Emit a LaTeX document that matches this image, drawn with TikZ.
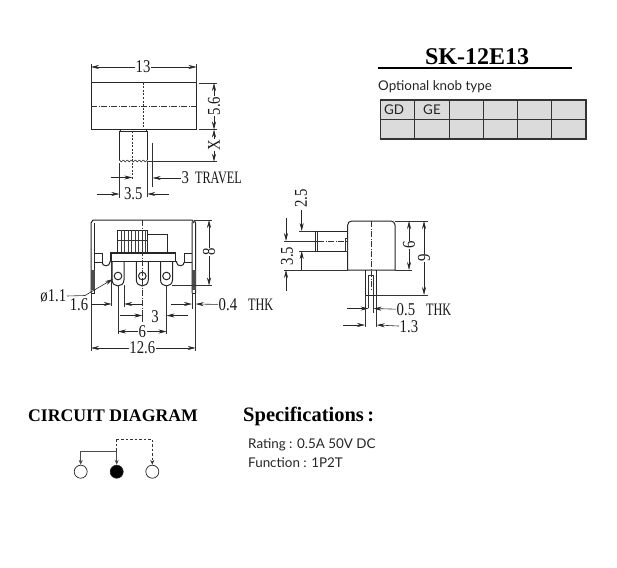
\documentclass[tikz,border=0pt]{standalone}
\usepackage{fontspec}
\setmainfont{Liberation Serif}
\newfontfamily\dimfont[FakeStretch=0.82]{Liberation Serif}
\newfontfamily\wordfont[FakeStretch=0.7]{Liberation Serif}
\newfontfamily\labelfont{Lato}
\newcommand{\wordsize}{\wordfont\fontsize{17.5}{17.5}\selectfont}
\usetikzlibrary{arrows.meta}
\tikzset{
  part/.style={line width=1pt,black!85},
  thin part/.style={line width=0.6pt,black!80},
  heavy/.style={line width=1.3pt,black!85},
  centre/.style={line width=0.6pt,black!80,dash pattern=on 6pt off 1.5pt on 1pt off 1.5pt},
  hidden/.style={line width=0.6pt,black!80,dash pattern=on 2pt off 1.5pt},
  ext/.style={line width=0.6pt,black!80},
  tip/.style={line width=0.6pt,black!85,-{Stealth[length=8pt,width=4pt]}},
  dimtext/.style={font=\dimfont\fontsize{18}{18}\selectfont,inner sep=0.5pt,fill=white,text=black!90},
  dimfree/.style={font=\dimfont\fontsize{18}{18}\selectfont,inner sep=0.5pt,anchor=west,text=black!90},
  sanslabel/.style={font=\labelfont\fontsize{13.4}{13.4}\selectfont,inner sep=0pt,anchor=west,text=black!85},
  heading/.style={inner sep=0pt,anchor=west},
  pin/.style={circle,draw=black!85,line width=0.7pt,minimum size=13pt,inner sep=0pt},
  solidlink/.style={line width=1.1pt,black!70,-{Stealth[length=5pt,width=4pt]}},
  dashlink/.style={line width=0.8pt,black!80,dash pattern=on 2.5pt off 2pt,-{Stealth[length=5pt,width=4pt]}},
}
\begin{document}
\begin{tikzpicture}[x=1pt,y=-1pt]
\useasboundingbox (0,0) rectangle (617,567);
\fill[white] (0,0) rectangle (617,567);

% ---------- title ----------
\node[font=\bfseries\fontsize{24}{24}\selectfont,inner sep=0pt] (title) at (477,57) {SK-12E13};
\draw[line width=1.5pt] (378,68) -- (572,68);
\node[sanslabel] (optional) at (378,87) {Optional knob type};

% ---------- knob table ----------
\fill[black!14] (380.5,100) rectangle (586,139);
\foreach \cx in {414,449,483,517.5,551.6} \draw[line width=0.7pt,black!80] (\cx,100) -- (\cx,139);
\draw[line width=0.7pt,black!80] (380.5,119.5) -- (586,119.5);
\draw[line width=1.3pt,black!80] (380.5,100) rectangle (586,139);
\node[sanslabel,anchor=center] (gd) at (394,110) {GD};
\node[sanslabel,anchor=center] (ge) at (432,110) {GE};

% ---------- top view ----------
\draw[part] (91,83) rectangle (196.5,129);
\draw[centre] (91,106.7) -- (196.5,106.7);
\draw[hidden] (143.3,83) -- (143.3,129);
\draw[part] (120.5,131) -- (120.5,129) -- (146,129) -- (146,131);
\draw[part] (119.3,160) -- (119.3,131) -- (147.3,131) -- (147.3,160);
\foreach \k in {0,...,6}
  \draw[thin part] (119.3+4*\k,160) .. controls (120.3+4*\k,162.5) and (122.3+4*\k,162.5) .. (123.3+4*\k,160);
\draw[hidden] (132.3,131) -- (132.3,180);
% top view dimensions
\draw[ext] (91,64) -- (91,83) (196.5,64) -- (196.5,83);
\node[dimtext] (d13) at (143,67) {13};
\draw[tip] (d13) -- (91,67);
\draw[tip] (d13) -- (196.5,67);
\draw[ext] (199,83) -- (217,83) (199,129.5) -- (217,129.5) (147.3,161.7) -- (217,161.7);
\node[dimtext,rotate=90] (d56) at (214,106) {5.6};
\draw[tip] (d56) -- (214,83);
\draw[tip] (d56) -- (214,129.5);
\node[dimtext,rotate=90] (dx) at (214,145) {X};
\draw[tip] (dx) -- (214,129.5);
\draw[tip] (dx) -- (214,161.7);
\draw[ext] (147.3,161) -- (147.3,197) (152.7,143) -- (152.7,187) (119.3,163) -- (119.3,198);
\node[dimfree] (dtravel) at (181,178) {3\kern6pt{\wordsize TRAVEL}};
\draw[tip] (dtravel) -- (152.7,178);
\coordinate (trL) at (111,177.5);
\draw[tip] (trL) -- (132.3,177.5);
\node[dimtext] (d35a) at (133.3,194) {3.5};
\coordinate (a35l) at (97,194);
\coordinate (a35r) at (169,194);
\draw[tip] (a35l) -- (119.3,194);
\draw[tip] (a35r) -- (147.3,194);

% ---------- front view ----------
\draw[part] (91,293) -- (91,223) -- (93,220) -- (192,220) -- (194,223);
\draw[part] (94.5,293) -- (94.5,223);
\draw[part] (94.5,293) -- (91,293);
\draw[part] (192,293) -- (192,222) (195.7,293) -- (195.7,223) -- (194,220);
\draw[part] (192,293) -- (195.7,293);
\fill[black!70] (91,270) rectangle (94.5,290);
\fill[black!70] (192,270) rectangle (195.7,290);
% shoulders, notches, bar
\draw[part] (94.5,253) -- (102,253) -- (102,262) -- (94.5,262);
\draw[part] (192,253) -- (184.3,253) -- (184.3,262) -- (192,262);
\draw[part] (102,262) .. controls (102,267) and (110,267) .. (110,262) -- (110,261);
\draw[part] (176.5,261) -- (176.5,262) .. controls (176.5,267) and (184.3,267) .. (184.3,262);
\draw[heavy] (111,253) rectangle (175.7,261.5);
% slider
\draw[part] (117.7,251.5) -- (117.7,230) -- (147.7,230) -- (147.7,251.5);
\foreach \hx in {121,124.5,128,131.5,135,138.5,142,145} \draw[line width=0.8pt,black!75] (\hx,230) -- (\hx,252);
\draw[thin part] (117.7,240) -- (147.7,240);
\draw[part] (147.7,234) -- (167.7,234) -- (167.7,253);
% lugs
\foreach \lx in {118,142.3,166.5}{
  \draw[part] (\lx-6,261.5) -- (\lx-6,279.7) .. controls (\lx-6,288) and (\lx+6,288) .. (\lx+6,279.7) -- (\lx+6,261.5);
  \draw[part] (\lx,276) circle[radius=3.8pt];
}
\draw[centre] (142.3,220) -- (142.3,310);
% front view dimensions
\draw[ext] (142.3,310) -- (142.3,322);
\draw[ext] (111.7,262) -- (111.7,306) (124.2,285) -- (124.2,307);
\draw[ext] (118,285) -- (118,334) (166.5,285) -- (166.5,334);
\draw[ext] (91,293) -- (91,351) (195.7,293) -- (195.7,351) (192,293) -- (192,309);
\draw[ext] (172,285.5) -- (212,285.5) (195,220) -- (212,220);
\node[dimtext,rotate=90] (d8) at (209,252) {8};
\draw[tip] (d8) -- (209,220);
\draw[tip] (d8) -- (209,285.5);
\node[dimfree,anchor=east] (phi) at (67,296) {ø1.1};
\coordinate (phiknee) at (85,295.5);
\coordinate (phitip) at (113,279);
\draw[ext] (phi.east) -- (phiknee);
\draw[tip] (phiknee) -- (phitip);
\node[dimtext,fill=none] (d16) at (79,305) {1.6};
\coordinate (a16) at (92,304);
\draw[tip] (a16) -- (111.7,304);
\coordinate (a16r) at (142,304);
\draw[tip] (a16r) -- (124.2,304);
\coordinate (a04l) at (171,304);
\draw[tip] (a04l) -- (192,304);
\node[dimfree] (d04) at (218,305) {0.4\kern11pt{\wordsize THK}};
\draw[tip] (d04) -- (195.7,304);
\node[dimtext,fill=none] (d3) at (155,317) {3};
\coordinate (a3l) at (120,315.5);
\coordinate (a3r) at (188,315.5);
\draw[tip] (a3l) -- (142.3,315.5);
\draw[tip] (a3r) -- (166.5,315.5);
\node[dimtext] (d6) at (142.3,331.5) {6};
\draw[tip] (d6) -- (118,331.5);
\draw[tip] (d6) -- (166.5,331.5);
\node[dimtext] (d126) at (142.3,348) {12.6};
\draw[tip] (d126) -- (91,348);
\draw[tip] (d126) -- (195.7,348);

% ---------- side view ----------
\draw[part] (347.7,270) [rounded corners=4pt] -- (347.7,221) -- (395,221) [sharp corners] -- (395,270) -- cycle;
\draw[part] (365,270) -- (365,295) -- (376.7,295) -- (376.7,270);
\draw[thin part] (368.7,275) -- (368.7,308) (373.5,275) -- (373.5,295) (368.7,275) -- (373.5,275);
\draw[part] (315,231) rectangle (347.7,251);
\draw[thin part] (317.7,231) -- (317.7,251);
\draw[thin part] (345.7,238) rectangle (347.7,251);
\draw[centre] (371,221) -- (371,290);
\draw[centre] (318,241) -- (347,241);
% side view dimensions
\draw[ext] (299,231) -- (315,231) (299,251) -- (315,251) (284,241) -- (318,241) (284,270) -- (347.7,270);
\node[dimtext,rotate=90,fill=none] (d25) at (301,198.5) {2.5};
\coordinate (a25up) at (301.7,210);
\draw[tip] (a25up) -- (301.7,231);
\coordinate (a25dn) at (301.7,270);
\draw[tip] (a25dn) -- (301.7,251);
\node[dimtext,rotate=90,fill=none] (d35b) at (287,256) {3.5};
\coordinate (a35up) at (286,218);
\draw[tip] (a35up) -- (286,241);
\coordinate (a35dn) at (286,291);
\draw[tip] (a35dn) -- (286,270);
\draw[ext] (395,221) -- (428,221) (395,270) -- (412,270) (377,295) -- (428,295);
\node[dimtext,rotate=90] (d6b) at (409,245) {6};
\draw[tip] (d6b) -- (409,221);
\draw[tip] (d6b) -- (409,270);
\node[dimtext,rotate=90] (d9) at (424,258) {9};
\draw[tip] (d9) -- (424,221);
\draw[tip] (d9) -- (424,295);
\draw[ext] (365,295) -- (365,327) (376.7,295) -- (376.7,327) (373.5,295) -- (373.5,313);
\coordinate (a05) at (347,308.5);
\draw[tip] (a05) -- (368.7,308.5);
\node[dimfree] (d05) at (396,310) {0.5\kern11pt{\wordsize THK}};
\draw[tip] (d05) -- (373.5,308.5);
\coordinate (a13) at (343,325);
\draw[tip] (a13) -- (365,325);
\node[dimfree] (d13b) at (399,326.5) {1.3};
\draw[tip] (d13b) -- (376.7,325);

% ---------- circuit ----------
\node[heading,font=\bfseries\fontsize{17.7}{17.7}\selectfont] (circ) at (28,416) {CIRCUIT DIAGRAM};
\node[pin] (p1) at (80.7,471.7) {};
\node[pin,fill=black] (p2) at (116.7,471.7) {};
\node[pin] (p3) at (152.3,471.7) {};
\coordinate (j1) at (116.7,451.7);
\coordinate (j2) at (116.7,439.3);
\draw[solidlink] (j1) -| (p1.north);
\draw[solidlink] (j1) -- (p2.north);
\draw[dashlink,-] (j2) -- (j1);
\draw[dashlink] (j2) -| (p3.north);

% ---------- specifications ----------
\node[heading,font=\bfseries\fontsize{20.5}{20.5}\selectfont] (spec) at (243,416) {Specifications\,:};
\node[sanslabel] (rate) at (248,445) {Rating : 0.5A 50V DC};
\node[sanslabel] (func) at (248,463) {Function : 1P2T};
\end{tikzpicture}
\end{document}
